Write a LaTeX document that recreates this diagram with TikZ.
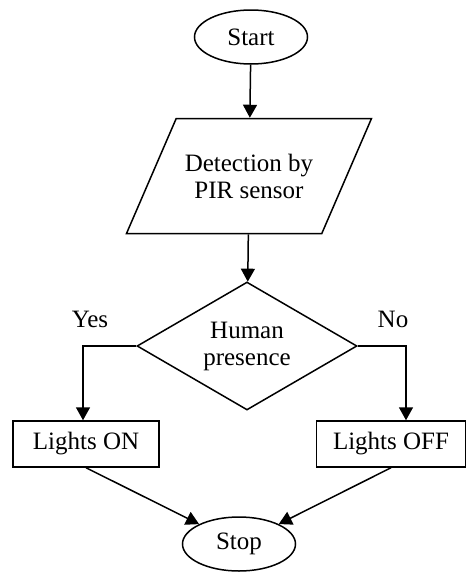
\documentclass[tikz,border=0pt]{standalone}
\usepackage{fontspec}
\setmainfont{Liberation Serif}
\usetikzlibrary{arrows.meta, shapes.geometric}

\begin{document}
\begin{tikzpicture}[x=1pt, y=-1pt, >={Triangle[length=13pt, width=14pt]},
    line width=1.5pt, font=\fontsize{25}{27}\selectfont,
    terminal/.style={draw, ellipse, inner sep=0pt, minimum width=113pt, minimum height=54pt},
    inputbox/.style={draw, trapezium, trapezium left angle=65, trapezium right angle=115,
        trapezium stretches body, inner xsep=0pt, inner ysep=31pt, minimum width=245pt, minimum height=115pt, align=center},
    decision/.style={draw, diamond, inner sep=0pt, aspect=1.72, minimum width=220pt, minimum height=128pt, align=center},
    actionbox/.style={draw, rectangle, inner sep=0pt, minimum height=46pt}]
    \useasboundingbox (0,0) rectangle (467,573);

    % Start and detection
    \node[terminal] (start) at (251,37) {Start};
    \node[inputbox] (detect) at (249,176) {Detection by\\PIR sensor};

    % Decision
    \node[decision] (human) at (247,346) {Human\\presence};
    \node (yes) at (90,319) {Yes};
    \node (no) at (393,319) {No};

    % Outcomes
    \node[actionbox, minimum width=146pt] (on) at (86,444) {Lights ON};
    \node[actionbox, minimum width=149pt] (off) at (391,444) {Lights OFF};
    \node[terminal] (stop) at (239,544) {Stop};

    % Connectors
    \draw[->] (start) -- (detect);
    \draw[->] (detect) -- (human);
    \draw[->] (human.west) -| ([xshift=-3pt]on.north);
    \draw[->] (human.east) -| ([xshift=15pt]off.north);
    \draw[->] (on.south) -- (stop);
    \draw[->] (off.south) -- (stop);
\end{tikzpicture}
\end{document}
